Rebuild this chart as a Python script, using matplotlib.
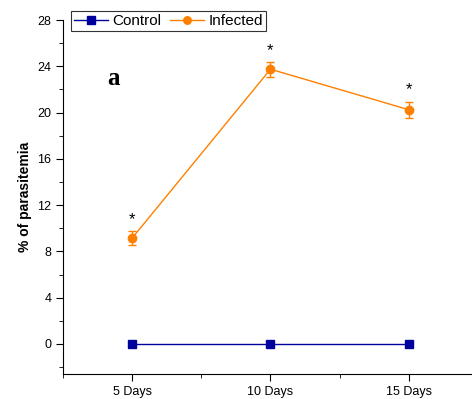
import matplotlib
matplotlib.use("Agg")
import matplotlib.pyplot as plt
from matplotlib.ticker import MultipleLocator

plt.rcParams["font.family"] = ["Liberation Sans", "DejaVu Sans"]

# data
days = ["5 Days", "10 Days", "15 Days"]
control = [0, 0, 0]
infected = [9.15, 23.75, 20.25]
infected_err = [0.6, 0.65, 0.7]

x = [1, 2, 3]

fig = plt.figure(figsize=(4.72, 3.99), dpi=100)
ax = fig.add_axes([0.1335, 0.0627, 0.879, 0.887])

ax.plot(x, control, color="#00009c", marker="s", markersize=6, lw=1,
        label="Control", clip_on=False, zorder=3)
ax.errorbar(x, infected, yerr=infected_err, color="#ff8000", fmt="none",
            elinewidth=1, capsize=3, capthick=1, zorder=3)
ax.plot(x, infected, color="#ff8000", marker="o", markersize=6, lw=1,
        label="Infected", zorder=4)

for xi, yi, ei in zip(x, infected, infected_err):
    ax.text(xi, yi + ei + 0.35, "*", ha="center", va="bottom", fontsize=12)

ax.text(0.82, 22.4, "a", fontsize=18, fontweight="bold", family="Liberation Serif")

ax.set_xlim(0.5, 3.5)
ax.set_ylim(-2.6, 28)
ax.set_xticks(x)
ax.set_xticklabels(days)
ax.xaxis.set_minor_locator(MultipleLocator(0.5))
ax.yaxis.set_major_locator(MultipleLocator(4))
ax.yaxis.set_minor_locator(MultipleLocator(2))
ax.tick_params(which="both", direction="out", labelsize=9)
ax.tick_params(which="major", length=5)
ax.tick_params(which="minor", length=3)
ax.spines["top"].set_visible(False)
ax.spines["right"].set_visible(False)
ax.set_ylabel("% of parasitemia", fontsize=10, fontweight="bold")

leg = ax.legend(loc="upper left", bbox_to_anchor=(71 / 472, 1 - 11 / 399),
                bbox_transform=fig.transFigure, ncol=2, frameon=True,
                fancybox=False, edgecolor="black", fontsize=11,
                handlelength=2.2, handletextpad=0.3, columnspacing=0.6,
                borderpad=0.2, borderaxespad=0, markerscale=0.9)
leg.get_frame().set_linewidth(0.8)

fig.savefig("out.png", dpi=100)
